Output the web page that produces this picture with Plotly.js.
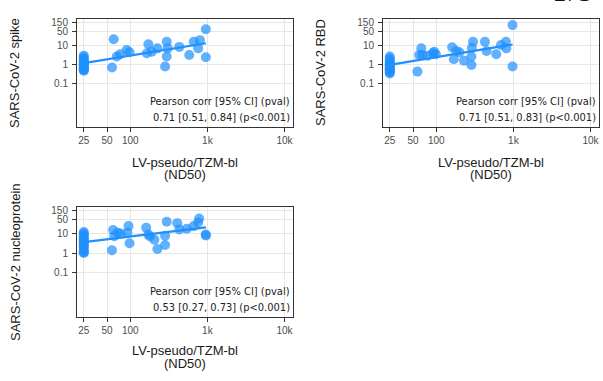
<!DOCTYPE html>
<html>
<head>
<meta charset="utf-8">
<script src="https://cdn.plot.ly/plotly-3.0.1.min.js"></script>
<style>
html,body{margin:0;padding:0;background:#fff;}
#chart{width:603px;height:381px;}
</style>
</head>
<body>
<div id="chart"></div>
<script>
// ---- data ----
const panelTitles = ['SARS-CoV-2 spike', 'SARS-CoV-2 RBD', 'SARS-CoV-2 nucleoprotein'];
const xTitleLines = ['LV-pseudo/TZM-bl', '(ND50)'];
const xTickVals = [25, 50, 100, 1000, 10000];
const xTickText = ['25', '50', '100', '1k', '10k'];
const yTickVals = [0.1, 1, 10, 50, 150];
const yTickText = ['0.1', '1', '10', '50', '150'];
const statHeader = 'Pearson corr [95% CI] (pval)';
const statValues = ['0.71 [0.51, 0.84] (p<0.001)', '0.71 [0.51, 0.83] (p<0.001)', '0.53 [0.27, 0.73] (p<0.001)'];
const pageNumber = '271';

const spikeNd50 = [25,25,25,25,25,25,25,25,25,25,25,25,25,25,25,
  58,61,67,74,90,98,164,172,190,225,283,297,306,297,433,582,665,760,800,955,955];
const spikeVal = [0.45,0.5,0.55,0.6,0.65,0.75,0.85,0.95,1.05,1.2,1.4,1.6,1.9,2.3,2.8,
  0.67,20,2.5,3.3,5.5,4.2,3.7,11,4.5,6.7,0.75,15,6.7,2.5,8,3,15,6.7,18,67,2.3];

const rbdNd50 = [25,25,25,25,25,25,25,25,25,25,25,25,25,25,25,
  57,60,64,66,77,90,94,99,161,169,181,200,229,286,286,290,300,428,450,600,690,800,810,975,975];
const rbdVal = [0.33,0.38,0.42,0.48,0.55,0.62,0.7,0.8,0.9,1.0,1.15,1.3,1.6,2.0,2.5,
  0.41,3.0,6.7,3.0,2.8,3.7,4.5,3.3,7.6,1.8,4.9,4.2,1.5,0.9,2.5,7,15,15,4.9,3.3,10,15,6.7,110,0.75];

const nucNd50 = [25,25,25,25,25,25,25,25,25,25,25,25,25,25,25,25,
  58,60,62,69,75,92,95,98,161,172,181,206,225,283,283,297,407,433,540,665,760,783,950,960];
const nucVal = [1.0,1.1,1.3,1.6,2.0,2.4,2.8,3.3,3.8,4.5,5.2,6,7,8.5,10,12,
  1.4,15,7.2,11,10,11,24,3.2,20,8.8,7,4.8,1.6,2.6,7.8,40,34,16,17.6,24,37,59,8.8,8];

const panelX = [spikeNd50, rbdNd50, nucNd50];
const panelY = [spikeVal, rbdVal, nucVal];

// ---- layout geometry (pixels) ----
const W = 603, H = 381;
const boxes = [
  {l: 77, r: 293, t: 19, b: 127},
  {l: 383, r: 599, t: 19, b: 127},
  {l: 77, r: 293, t: 207, b: 317}
];
const xRange = [1.31, 4.11];
const yRange = [-3.28, 2.36];
const pointColor = '#1E90FF';
const statFont = 'Liberation Sans Narrow, DejaVu Sans Condensed, Arial Narrow, sans-serif';

function fitLine(xs, ys) {
  const lx = xs.map(Math.log10), ly = ys.map(Math.log10);
  const n = lx.length;
  const mx = lx.reduce((a, b) => a + b, 0) / n, my = ly.reduce((a, b) => a + b, 0) / n;
  let sxy = 0, sxx = 0;
  for (let i = 0; i < n; i++) { sxy += (lx[i] - mx) * (ly[i] - my); sxx += (lx[i] - mx) ** 2; }
  const slope = sxy / sxx, icpt = my - slope * mx;
  const x0 = Math.min(...xs), x1 = Math.max(...xs);
  return {x: [x0, x1], y: [Math.pow(10, icpt + slope * Math.log10(x0)), Math.pow(10, icpt + slope * Math.log10(x1))]};
}

const traces = [];
const layout = {
  width: W, height: H,
  margin: {l: 0, r: 0, t: 0, b: 0},
  paper_bgcolor: '#fff', plot_bgcolor: '#fff',
  showlegend: false,
  font: {family: 'Liberation Sans, Arial, sans-serif', color: '#222'},
  annotations: []
};

boxes.forEach((bx, i) => {
  const sfx = i === 0 ? '' : String(i + 1);
  const xa = 'x' + sfx, ya = 'y' + sfx;
  traces.push({
    x: panelX[i], y: panelY[i], xaxis: xa, yaxis: ya,
    type: 'scatter', mode: 'markers',
    marker: {color: pointColor, size: 10, opacity: 0.7, line: {width: 0}},
    hoverinfo: 'skip', cliponaxis: false
  });
  const f = fitLine(panelX[i], panelY[i]);
  traces.push({
    x: f.x, y: f.y, xaxis: xa, yaxis: ya,
    type: 'scatter', mode: 'lines',
    line: {color: pointColor, width: 2.2}, hoverinfo: 'skip'
  });
  const axCommon = {
    type: 'log', showgrid: true, gridcolor: '#e6e6e6', gridwidth: 1,
    zeroline: false, showline: true, linecolor: '#333', linewidth: 1, mirror: true,
    ticks: 'outside', ticklen: 4, tickcolor: '#333', tickwidth: 1,
    tickfont: {size: 10, color: '#4d4d4d', family: 'Liberation Sans, Arial, sans-serif'},
    fixedrange: true
  };
  layout['xaxis' + sfx] = Object.assign({}, axCommon, {
    domain: [bx.l / W, bx.r / W], range: xRange, anchor: ya,
    tickmode: 'array', tickvals: xTickVals, ticktext: xTickText
  });
  layout['yaxis' + sfx] = Object.assign({}, axCommon, {
    domain: [1 - bx.b / H, 1 - bx.t / H], range: yRange, anchor: xa,
    tickmode: 'array', tickvals: yTickVals, ticktext: yTickText, ticklabelstandoff: 2
  });
  // y axis title
  layout.annotations.push({
    xref: 'paper', yref: 'paper',
    x: (bx.l - 62) / W, y: 1 - ((bx.t + bx.b) / 2) / H,
    xanchor: 'center', yanchor: 'middle', textangle: -90, showarrow: false,
    text: panelTitles[i], font: {size: 13, color: '#1a1a1a'}
  });
  // x axis title (two lines)
  const xOff = i === 2 ? [33.5, 46] : [35.5, 48];
  xTitleLines.forEach((ln, k) => {
    layout.annotations.push({
      xref: 'paper', yref: 'paper',
      x: ((bx.l + bx.r) / 2) / W, y: 1 - (bx.b + xOff[k]) / H,
      xanchor: 'center', yanchor: 'middle', showarrow: false,
      text: ln, font: {size: 13, color: '#1a1a1a'}
    });
  });
  // stat annotation
  layout.annotations.push({
    xref: 'paper', yref: 'paper',
    x: (bx.r - 1) / W, y: 1 - (bx.b - 26) / H,
    xanchor: 'right', yanchor: 'middle', showarrow: false, align: 'right',
    text: statHeader, font: {size: 11, color: '#222', family: statFont}
  });
  layout.annotations.push({
    xref: 'paper', yref: 'paper',
    x: (bx.r - 1) / W, y: 1 - (bx.b - 10) / H,
    xanchor: 'right', yanchor: 'middle', showarrow: false, align: 'right',
    text: statValues[i], font: {size: 11, color: '#222', family: statFont}
  });
});

// page number fragment at the top (mostly cut off in the reference)
layout.annotations.push({
  xref: 'paper', yref: 'paper', x: 572 / W, y: 1 - 8 / H,
  xanchor: 'center', yanchor: 'bottom', showarrow: false,
  text: pageNumber, font: {size: 24, color: '#111', family: 'Liberation Serif, DejaVu Serif, serif'}
});

Plotly.newPlot('chart', traces, layout, {staticPlot: true, displayModeBar: false});
</script>
</body>
</html>
